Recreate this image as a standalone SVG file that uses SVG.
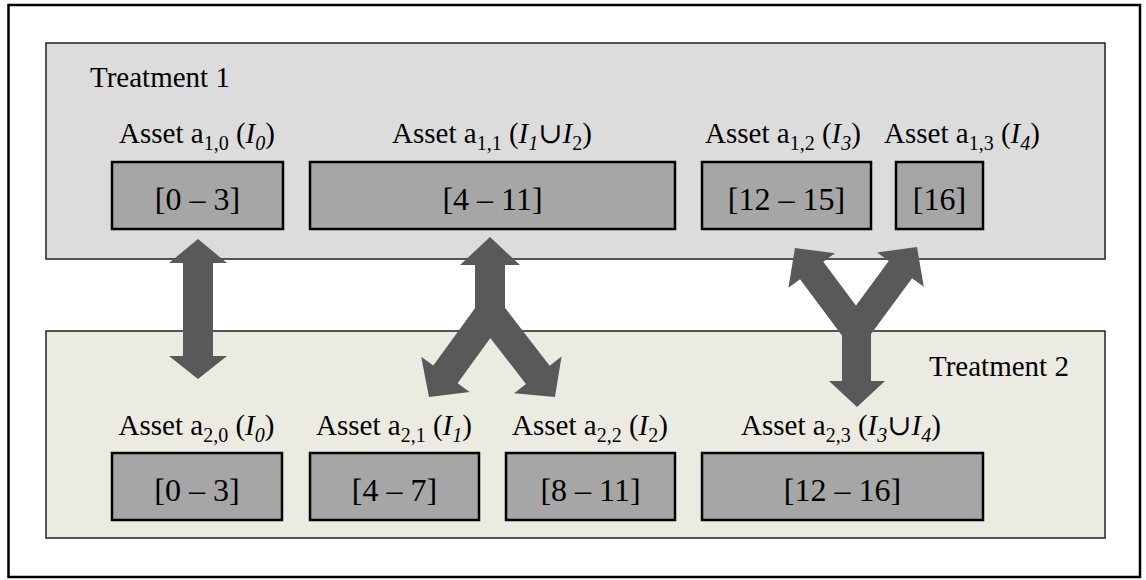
<svg xmlns="http://www.w3.org/2000/svg" width="1146" height="580" viewBox="0 0 1146 580">
<style>
.frame{fill:#ffffff;stroke:#000000;stroke-width:2.5}
.t1{fill:#dcdcdc;stroke:#222222;stroke-width:1.5}
.t2{fill:#ecebe1;stroke:#222222;stroke-width:1.5}
.box{fill:#a6a6a6;stroke:#000000;stroke-width:2.5}
text{font-family:"Liberation Serif","Times New Roman","DejaVu Serif",serif;fill:#000000}
.title{font-size:29px}
.lbl{font-size:29px;text-anchor:middle}
.val{font-size:32px;text-anchor:middle}
.sub{font-size:20px}
.it{font-style:italic}
.arrow{fill:#595959;stroke:none}
</style>
<rect class="frame" x="8.5" y="5" width="1131.5" height="572"/>
<g id="treatment1">
<rect class="t1" x="46" y="43" width="1059" height="216"/>
<text class="title" x="90" y="87">Treatment 1</text>
</g>
<g id="treatment2">
<rect class="t2" x="46" y="331" width="1059" height="207"/>
<text class="title" x="929" y="376">Treatment 2</text>
</g>
<g id="a10">
<text class="lbl" x="197" y="143">Asset a<tspan class="sub" dy="7">1,0</tspan><tspan dy="-7"> (</tspan><tspan class="it">I</tspan><tspan class="sub it" dy="7">0</tspan><tspan dy="-7">)</tspan></text>
<rect class="box" x="112" y="162" width="171" height="67"/>
<text class="val" x="197.5" y="210">[0 – 3]</text>
</g>
<g id="a11">
<text class="lbl" x="492" y="143">Asset a<tspan class="sub" dy="7">1,1</tspan><tspan dy="-7"> (</tspan><tspan class="it">I</tspan><tspan class="sub it" dy="7">1</tspan><tspan dy="-7">∪</tspan><tspan class="it">I</tspan><tspan class="sub" dy="7">2</tspan><tspan dy="-7">)</tspan></text>
<rect class="box" x="310" y="162" width="365" height="67"/>
<text class="val" x="492.5" y="210">[4 – 11]</text>
</g>
<g id="a12">
<text class="lbl" x="783" y="143">Asset a<tspan class="sub" dy="7">1,2</tspan><tspan dy="-7"> (</tspan><tspan class="it">I</tspan><tspan class="sub it" dy="7">3</tspan><tspan dy="-7">)</tspan></text>
<rect class="box" x="702" y="162" width="169" height="67"/>
<text class="val" x="786.5" y="210">[12 – 15]</text>
</g>
<g id="a13">
<text class="lbl" x="962" y="143">Asset a<tspan class="sub" dy="7">1,3</tspan><tspan dy="-7"> (</tspan><tspan class="it">I</tspan><tspan class="sub it" dy="7">4</tspan><tspan dy="-7">)</tspan></text>
<rect class="box" x="896" y="162" width="87" height="67"/>
<text class="val" x="939.5" y="210">[16]</text>
</g>
<g id="a20">
<text class="lbl" x="196.5" y="435">Asset a<tspan class="sub" dy="7">2,0</tspan><tspan dy="-7"> (</tspan><tspan class="it">I</tspan><tspan class="sub it" dy="7">0</tspan><tspan dy="-7">)</tspan></text>
<rect class="box" x="112" y="453" width="170" height="67"/>
<text class="val" x="197" y="501">[0 – 3]</text>
</g>
<g id="a21">
<text class="lbl" x="394" y="435">Asset a<tspan class="sub" dy="7">2,1</tspan><tspan dy="-7"> (</tspan><tspan class="it">I</tspan><tspan class="sub it" dy="7">1</tspan><tspan dy="-7">)</tspan></text>
<rect class="box" x="310" y="453" width="169" height="67"/>
<text class="val" x="394.5" y="501">[4 – 7]</text>
</g>
<g id="a22">
<text class="lbl" x="590" y="435">Asset a<tspan class="sub" dy="7">2,2</tspan><tspan dy="-7"> (</tspan><tspan class="it">I</tspan><tspan class="sub" dy="7">2</tspan><tspan dy="-7">)</tspan></text>
<rect class="box" x="506" y="453" width="169" height="67"/>
<text class="val" x="590.5" y="501">[8 – 11]</text>
</g>
<g id="a23">
<text class="lbl" x="841" y="435">Asset a<tspan class="sub" dy="7">2,3</tspan><tspan dy="-7"> (</tspan><tspan class="it">I</tspan><tspan class="sub it" dy="7">3</tspan><tspan dy="-7">∪</tspan><tspan class="it">I</tspan><tspan class="sub it" dy="7">4</tspan><tspan dy="-7">)</tspan></text>
<rect class="box" x="702" y="453" width="281" height="67"/>
<text class="val" x="842.5" y="501">[12 – 16]</text>
</g>
<g id="connectors">
<polygon class="arrow" points="198,239 227,263 213,263 213,356 227,356 198,379 169,356 183,356 183,263 169,263"/>
<polygon class="arrow" points="490,237 520,265 505,265 505,320 475,320 475,265 460,265"/>
<g transform="translate(490,313) rotate(36)"><polygon class="arrow" points="-15,0 15,0 15,75.8 30,75.8 0,103.8 -30,75.8 -15,75.8"/></g>
<g transform="translate(490,313) rotate(-37.7)"><polygon class="arrow" points="-15,0 15,0 15,78.2 30,78.2 0,106.2 -30,78.2 -15,78.2"/></g>
<polygon class="arrow" points="842,320 871,320 871,381 885,381 857,407 829,381 842,381"/>
<g transform="translate(856,330) rotate(143.3)"><polygon class="arrow" points="-14.5,0 14.5,0 14.5,74.2 29,74.2 0,102.2 -29,74.2 -14.5,74.2"/></g>
<g transform="translate(856,330) rotate(-143.7)"><polygon class="arrow" points="-14.5,0 14.5,0 14.5,75 29,75 0,103 -29,75 -14.5,75"/></g>
</g>
</svg>
